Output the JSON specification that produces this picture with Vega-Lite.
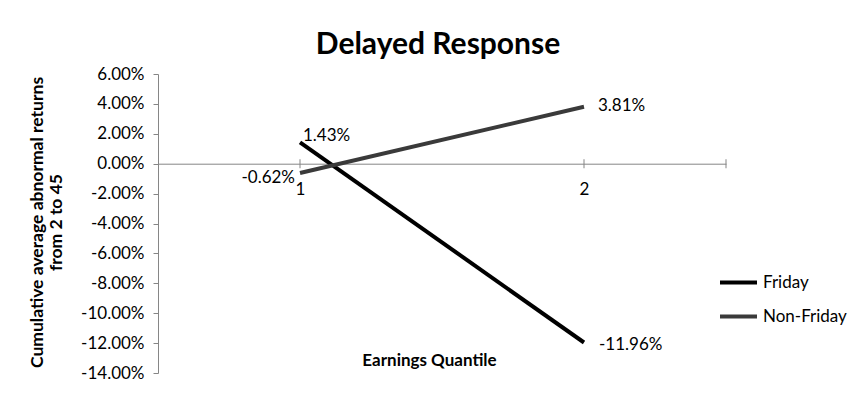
{
  "$schema": "https://vega.github.io/schema/vega-lite/v6.json",
  "width": 568,
  "height": 299,
  "autosize": {"type": "none"},
  "padding": {"left": 158, "top": 74, "right": 134, "bottom": 32},
  "background": "white",
  "config": {
    "view": {"stroke": null},
    "font": "Lato",
    "locale": {"number": {"decimal": ".", "thousands": ",", "grouping": [3], "currency": ["$", ""], "minus": "-"}}
  },
  "title": {
    "text": "Delayed Response",
    "font": "Lato",
    "fontSize": 30,
    "fontWeight": "bold",
    "color": "#000000",
    "anchor": "middle",
    "frame": "group",
    "baseline": "alphabetic",
    "offset": 19,
    "dy": 38,
    "dx": -4
  },
  "datasets": {
    "series": [
      {"quantile": 1, "series": "Friday", "value": 0.0143},
      {"quantile": 2, "series": "Friday", "value": -0.1196},
      {"quantile": 1, "series": "Non-Friday", "value": -0.0062},
      {"quantile": 2, "series": "Non-Friday", "value": 0.0381}
    ],
    "xticks": [
      {"quantile": 1, "value": 0},
      {"quantile": 2, "value": 0},
      {"quantile": 2.5, "value": 0}
    ]
  },
  "encoding": {
    "x": {
      "field": "quantile",
      "type": "quantitative",
      "scale": {"domain": [0.5, 2.5], "nice": false, "zero": false},
      "axis": {
        "orient": "bottom",
        "offset": -209.3,
        "values": [1, 2],
        "format": "d",
        "ticks": false,
        "tickSize": 0,
        "grid": false,
        "domainColor": "#868686",
        "domainWidth": 1,
        "labelFont": "Lato",
        "labelFontSize": 17,
        "labelColor": "#000000",
        "labelPadding": 18,
        "title": "Earnings Quantile",
        "titleFont": "Lato",
        "titleFontSize": 17,
        "titleFontWeight": "bold",
        "titleColor": "#000000",
        "titleX": 271,
        "titleY": 197,
        "titleBaseline": "middle",
        "titleAlign": "center"
      }
    },
    "y": {
      "field": "value",
      "type": "quantitative",
      "scale": {"domain": [-0.14, 0.06], "nice": false, "zero": false},
      "axis": {
        "values": [-0.14, -0.12, -0.1, -0.08, -0.06, -0.04, -0.02, 0, 0.02, 0.04, 0.06],
        "format": ".2%",
        "grid": false,
        "domainColor": "#868686",
        "tickColor": "#868686",
        "tickSize": 5,
        "labelPadding": 9,
        "labelFont": "Lato",
        "labelFontSize": 17,
        "labelColor": "#000000",
        "title": ["Cumulative average abnormal returns", "from 2 to 45"],
        "titleFont": "Lato",
        "titleFontSize": 17.5,
        "titleFontWeight": "bold",
        "titleColor": "#000000",
        "titleX": -130,
        "titleY": 148,
        "titleAngle": -90,
        "titleBaseline": "top",
        "titleAlign": "center",
        "titleLineHeight": 19
      }
    }
  },
  "layer": [
    {
      "data": {"name": "xticks"},
      "mark": {"type": "tick", "orient": "vertical", "size": 9, "thickness": 1, "color": "#868686", "opacity": 1}
    },
    {
      "data": {"name": "series"},
      "mark": {"type": "line", "strokeWidth": 4, "strokeCap": "butt"},
      "encoding": {
        "color": {
          "field": "series",
          "type": "nominal",
          "scale": {"domain": ["Friday", "Non-Friday"], "range": ["#000000", "#3a3a3a"]},
          "legend": {
            "title": null,
            "orient": "none",
            "legendX": 560,
            "legendY": 188,
            "symbolType": "stroke",
            "symbolSize": 1369,
            "symbolStrokeWidth": 4,
            "labelFont": "Lato",
            "labelFontSize": 17,
            "labelColor": "#000000",
            "labelOffset": 4,
            "rowPadding": 5
          }
        }
      }
    },
    {
      "data": {"name": "series"},
      "transform": [{"filter": "datum.series == 'Friday' && datum.quantile == 1"}],
      "mark": {"type": "text", "align": "left", "baseline": "alphabetic", "dx": 3, "dy": -1, "fontSize": 17, "color": "#000000"},
      "encoding": {"text": {"field": "value", "type": "quantitative", "format": ".2%"}}
    },
    {
      "data": {"name": "series"},
      "transform": [{"filter": "datum.series == 'Non-Friday' && datum.quantile == 1"}],
      "mark": {"type": "text", "align": "right", "baseline": "middle", "dx": -5, "dy": 5, "fontSize": 17, "color": "#000000"},
      "encoding": {"text": {"field": "value", "type": "quantitative", "format": ".2%"}}
    },
    {
      "data": {"name": "series"},
      "transform": [{"filter": "datum.series == 'Non-Friday' && datum.quantile == 2"}],
      "mark": {"type": "text", "align": "left", "baseline": "middle", "dx": 14, "dy": -1, "fontSize": 17, "color": "#000000"},
      "encoding": {"text": {"field": "value", "type": "quantitative", "format": ".2%"}}
    },
    {
      "data": {"name": "series"},
      "transform": [{"filter": "datum.series == 'Friday' && datum.quantile == 2"}],
      "mark": {"type": "text", "align": "left", "baseline": "middle", "dx": 15, "dy": 2, "fontSize": 17, "color": "#000000"},
      "encoding": {"text": {"field": "value", "type": "quantitative", "format": ".2%"}}
    }
  ]
}
